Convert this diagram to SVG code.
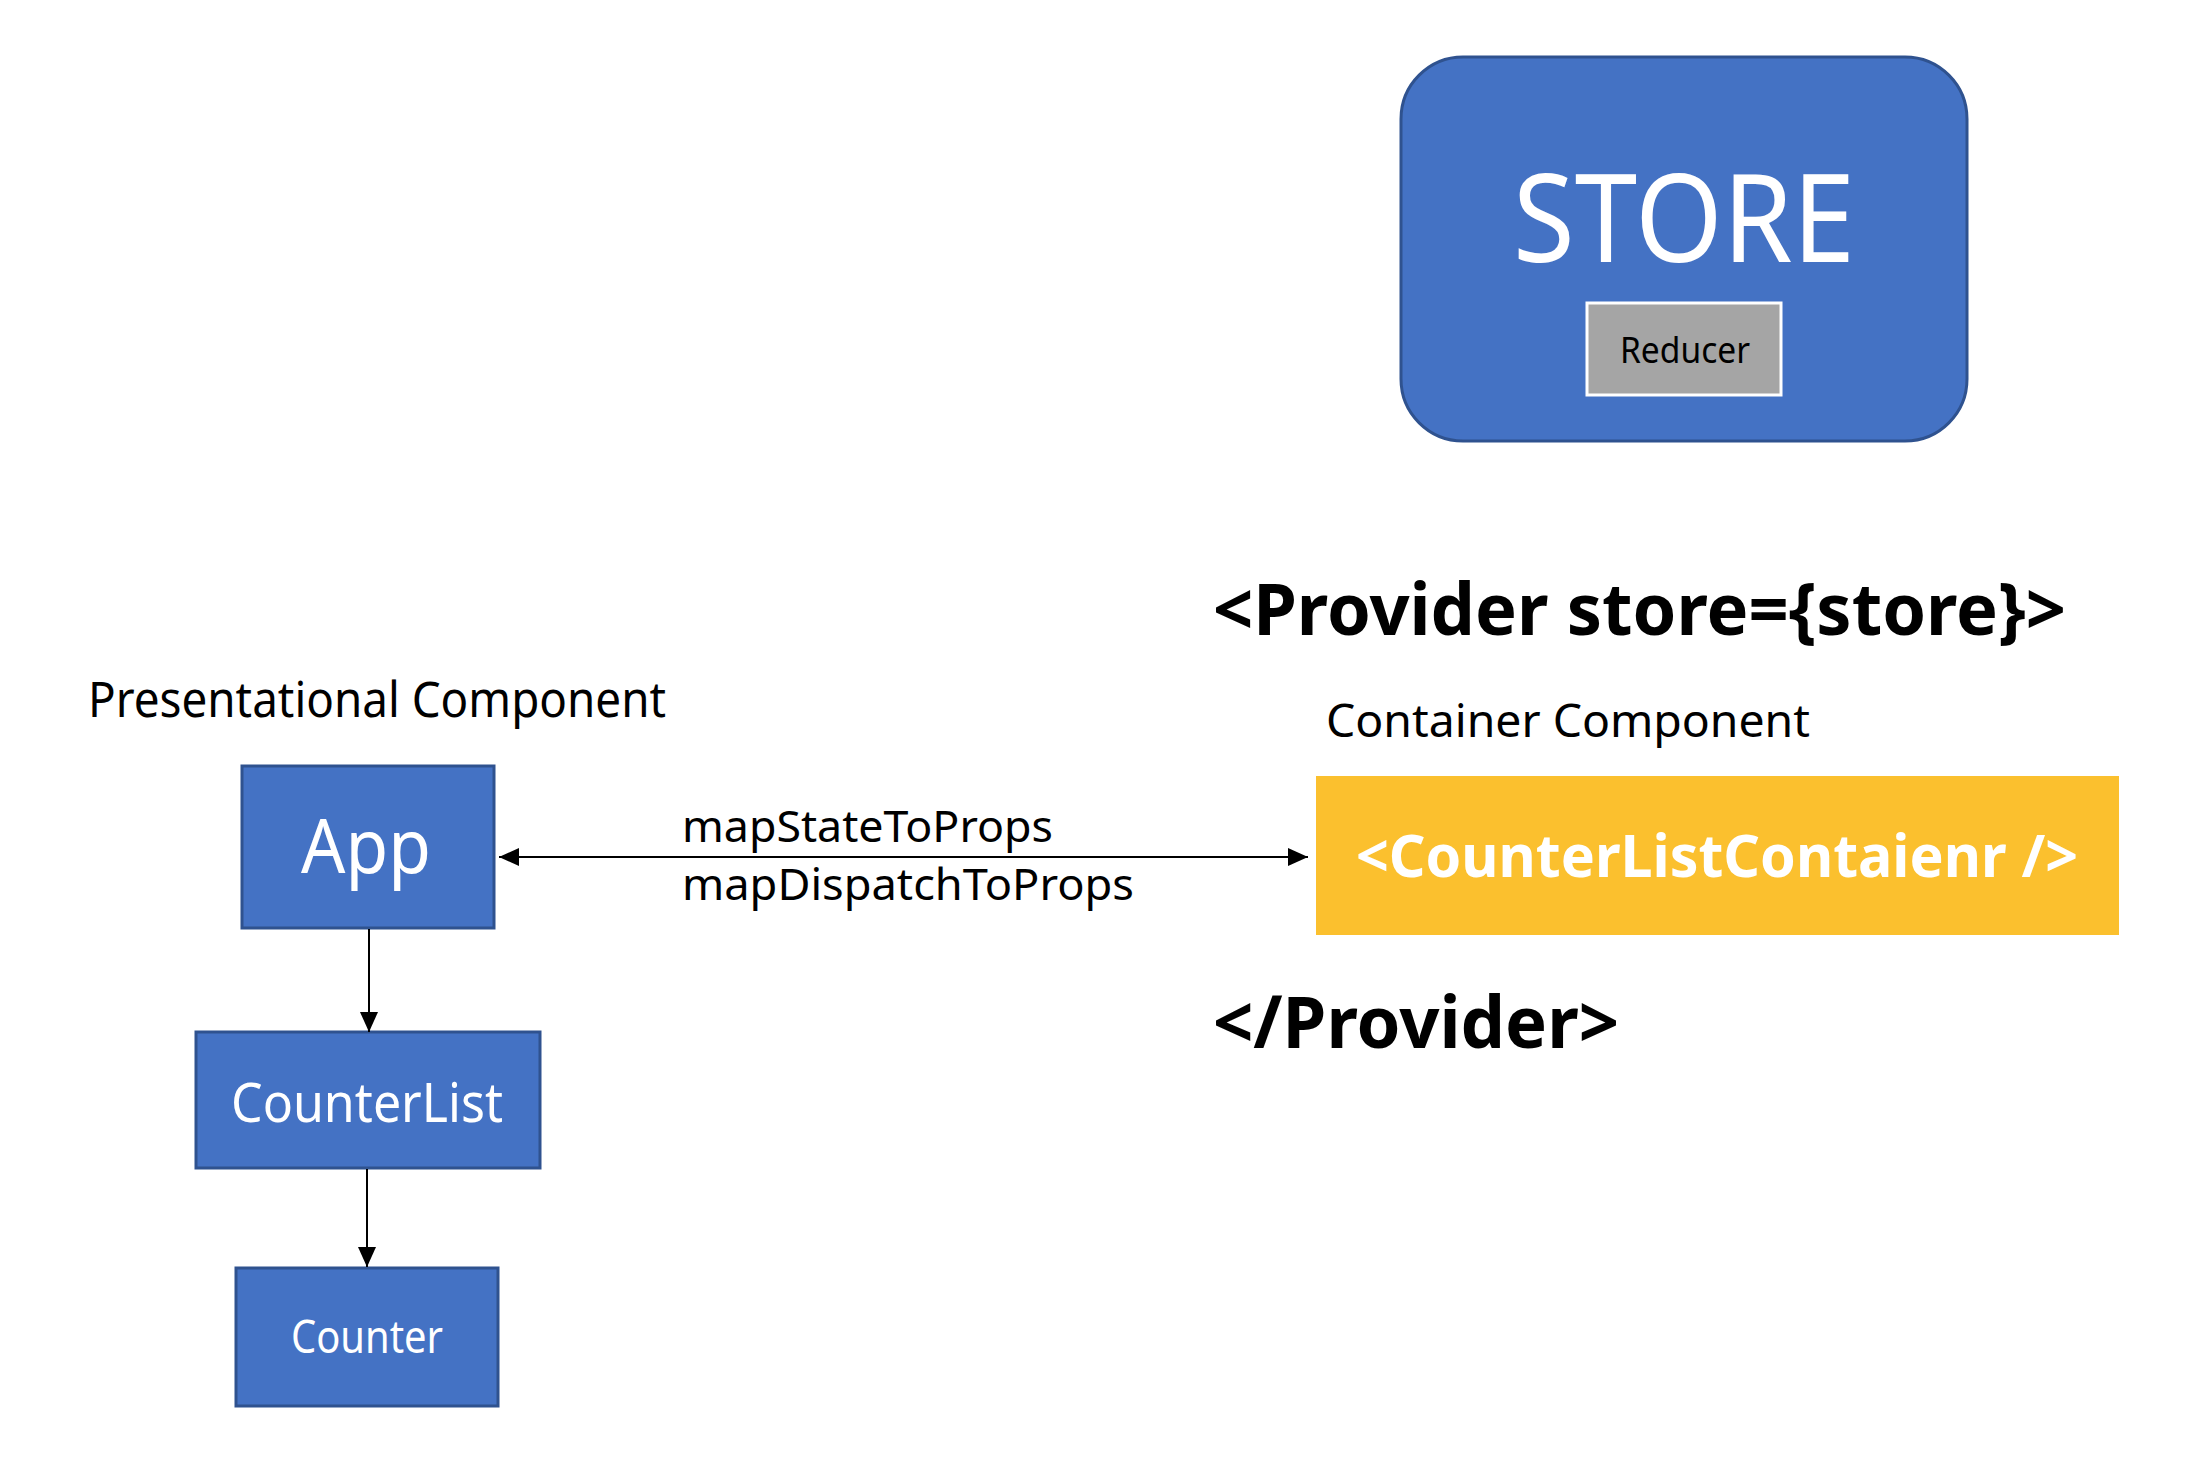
<svg xmlns="http://www.w3.org/2000/svg" width="2208" height="1470" viewBox="0 0 2208 1470">
<style>
.t{font-family:"Noto Sans","Open Sans","Liberation Sans",sans-serif}
.blue{fill:#4472C4;stroke:#2F528F;stroke-width:3}
.w{fill:#FFFFFF}
.k{fill:#000000}
.b{font-weight:bold}
.conn{stroke:#000;stroke-width:2;fill:none}
</style>
<defs>
<marker id="ah" viewBox="0 0 20 18" refX="20" refY="9" markerWidth="20" markerHeight="18" markerUnits="userSpaceOnUse" orient="auto-start-reverse">
<path d="M0,0 L20,9 L0,18 Z" fill="#000"/>
</marker>
</defs>
<rect width="2208" height="1470" fill="#FFFFFF"/>
<g id="store">
<rect class="blue" x="1401" y="57" width="566" height="384" rx="62" ry="62"/>
<text class="t w" x="1513" y="262" font-size="122" textLength="342" lengthAdjust="spacingAndGlyphs">STORE</text>
</g>
<g id="reducer">
<rect x="1587" y="303" width="194" height="92" fill="#A5A5A5" stroke="#FFFFFF" stroke-width="3"/>
<text class="t k" x="1620" y="363" font-size="36" textLength="130" lengthAdjust="spacingAndGlyphs">Reducer</text>
</g>
<g id="provider-open">
<text class="t k b" x="1213" y="635" font-size="71" textLength="853" lengthAdjust="spacingAndGlyphs">&lt;Provider store={store}&gt;</text>
</g>
<g id="presentational-label">
<text class="t k" x="88" y="717" font-size="49" textLength="578" lengthAdjust="spacingAndGlyphs">Presentational Component</text>
</g>
<g id="container-label">
<text class="t k" x="1326" y="737" font-size="46" textLength="484" lengthAdjust="spacingAndGlyphs">Container Component</text>
</g>
<g id="app">
<rect class="blue" x="242" y="766" width="252" height="162"/>
<text class="t w" x="301" y="873" font-size="74" textLength="130" lengthAdjust="spacingAndGlyphs">App</text>
</g>
<g id="counter-list-container">
<rect x="1316" y="776" width="803" height="159" fill="#FBC02E"/>
<text class="t w b" x="1356" y="877" font-size="60" textLength="722" lengthAdjust="spacingAndGlyphs">&lt;CounterListContaienr /&gt;</text>
</g>
<g id="counterlist">
<rect class="blue" x="196" y="1032" width="344" height="136"/>
<text class="t w" x="231" y="1122" font-size="55" textLength="272" lengthAdjust="spacingAndGlyphs">CounterList</text>
</g>
<g id="counter">
<rect class="blue" x="236" y="1268" width="262" height="138"/>
<text class="t w" x="291" y="1353" font-size="45" textLength="152" lengthAdjust="spacingAndGlyphs">Counter</text>
</g>
<g id="provider-close">
<text class="t k b" x="1213" y="1048" font-size="71" textLength="406" lengthAdjust="spacingAndGlyphs">&lt;/Provider&gt;</text>
</g>
<g id="connectors">
<line class="conn" x1="499" y1="857" x2="1308" y2="857" marker-start="url(#ah)" marker-end="url(#ah)"/>
<line class="conn" x1="369" y1="929" x2="369" y2="1032" marker-end="url(#ah)"/>
<line class="conn" x1="367" y1="1169" x2="367" y2="1267" marker-end="url(#ah)"/>
<text class="t k" x="682" y="842" font-size="44" textLength="371" lengthAdjust="spacingAndGlyphs">mapStateToProps</text>
<text class="t k" x="682" y="900" font-size="44" textLength="452" lengthAdjust="spacingAndGlyphs">mapDispatchToProps</text>
</g>
</svg>
